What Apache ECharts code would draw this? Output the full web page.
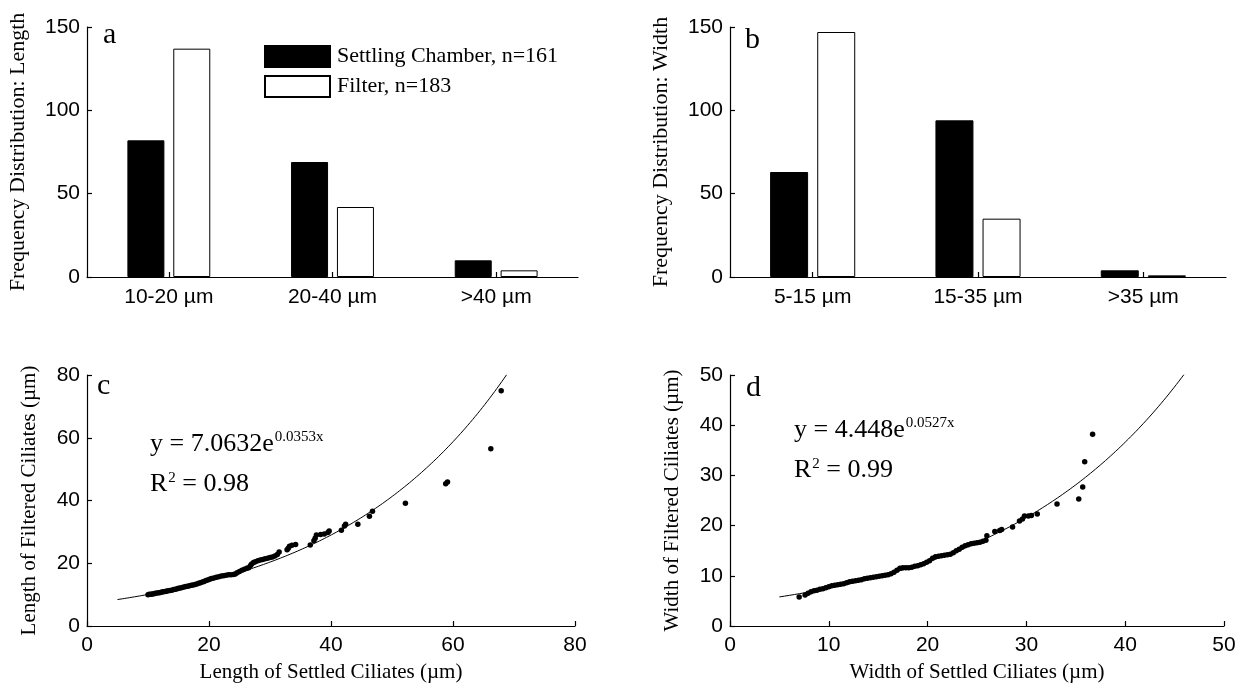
<!DOCTYPE html>
<html>
<head>
<meta charset="utf-8">
<script src="https://cdn.jsdelivr.net/npm/echarts@6/dist/echarts.min.js"></script>
<style>
  html, body { margin: 0; padding: 0; background: #fff; }
  #chart { width: 1239px; height: 688px; }
</style>
</head>
<body>
<div id="chart"></div>
<script>
// Size classes for ciliate length and width
const lengthCats = ['10-20 µm', '20-40 µm', '>40 µm'];
const widthCats = ['5-15 µm', '15-35 µm', '>35 µm'];

// Counts per size class (settling chamber vs. filter)
const lengthSettled = [82, 69, 10];
const lengthFilter = [137, 42, 4];
const widthSettled = [63, 94, 4];
const widthFilter = [147, 35, 1];

const seriesNames = ['Settling Chamber, n=161', 'Filter, n=183'];

// Paired sizes: settled (x) vs filtered (y), µm
const lengthPairs = [
  [10.0, 10.0], [10.2, 10.1], [10.5, 10.1], [10.7, 10.2], [11.0, 10.3], [11.2, 10.4],
  [11.5, 10.5], [11.8, 10.6], [12.0, 10.7], [12.3, 10.8], [12.5, 10.9], [12.8, 11.0],
  [13.0, 11.1], [13.3, 11.2], [13.6, 11.3], [13.9, 11.4], [14.2, 11.6], [14.5, 11.7],
  [14.8, 11.9], [15.0, 12.0], [15.3, 12.1], [15.6, 12.3], [15.9, 12.4], [16.2, 12.6],
  [16.5, 12.7], [16.8, 12.8], [17.1, 13.0], [17.4, 13.1], [17.7, 13.2], [18.0, 13.4],
  [18.3, 13.6], [18.6, 13.8], [18.9, 14.0], [19.2, 14.2], [19.5, 14.5], [19.8, 14.7],
  [20.1, 14.9], [20.4, 15.1], [20.8, 15.3], [21.2, 15.5], [21.6, 15.7], [22.0, 15.9],
  [22.4, 16.0], [22.8, 16.2], [23.2, 16.3], [23.6, 16.3], [24.0, 16.4], [24.3, 16.6],
  [24.6, 17.0], [25.0, 17.4], [25.4, 17.8], [25.8, 18.1], [26.2, 18.4], [26.5, 18.6],
  [26.8, 19.3], [27.0, 19.8], [27.3, 20.2], [27.6, 20.5], [28.0, 20.8], [28.4, 21.0],
  [28.8, 21.2], [29.2, 21.4], [29.6, 21.6], [30.0, 21.8], [30.4, 22.0], [30.8, 22.3],
  [31.2, 22.8], [31.5, 23.6], [32.8, 24.3], [33.0, 24.8], [33.2, 25.4], [33.6, 25.7],
  [34.2, 26.0], [36.6, 25.8], [37.2, 27.2], [37.4, 28.0], [37.6, 29.0], [38.3, 29.2],
  [38.9, 29.3], [39.5, 29.8], [39.7, 30.3], [41.7, 30.5], [42.2, 31.9], [42.4, 32.4],
  [44.4, 32.4], [46.3, 35.0], [46.8, 36.6], [52.2, 39.1], [58.8, 45.3], [59.1, 45.9],
  [66.2, 56.5], [67.9, 75.0]
];
const widthPairs = [
  [7.0, 5.8], [7.6, 6.2], [7.9, 6.5], [8.2, 6.8], [8.5, 7.0], [8.8, 7.1], [9.1, 7.3],
  [9.4, 7.4], [9.7, 7.6], [10.0, 7.8], [10.3, 8.0], [10.6, 8.1], [10.9, 8.2], [11.2, 8.3],
  [11.5, 8.4], [11.8, 8.6], [12.1, 8.8], [12.4, 8.9], [12.7, 9.0], [13.0, 9.1], [13.3, 9.2],
  [13.6, 9.4], [13.9, 9.5], [14.2, 9.6], [14.5, 9.7], [14.8, 9.8], [15.1, 9.9], [15.4, 10.0],
  [15.7, 10.1], [16.0, 10.2], [16.3, 10.4], [16.6, 10.7], [16.9, 11.1], [17.2, 11.5],
  [17.5, 11.6], [17.8, 11.6], [18.1, 11.6], [18.4, 11.7], [18.7, 11.9], [19.0, 12.0],
  [19.3, 12.2], [19.6, 12.4], [19.9, 12.7], [20.2, 13.0], [20.5, 13.5], [20.8, 13.8],
  [21.1, 13.9], [21.4, 14.0], [21.7, 14.1], [22.0, 14.2], [22.3, 14.3], [22.6, 14.6],
  [22.9, 15.0], [23.2, 15.3], [23.5, 15.7], [23.8, 16.0], [24.1, 16.2], [24.4, 16.4],
  [24.7, 16.5], [25.0, 16.6], [25.3, 16.7], [25.6, 16.9], [25.9, 17.1], [26.0, 18.0],
  [26.8, 18.8], [27.3, 19.0], [27.5, 19.2], [28.6, 19.7], [29.3, 20.9], [29.6, 21.3],
  [29.8, 21.9], [30.2, 21.9], [30.5, 22.0], [31.1, 22.3], [33.1, 24.3], [35.3, 25.3],
  [35.7, 27.7], [35.9, 32.7], [36.7, 38.2]
];

// Exponential fits y = a·e^(b·x) as printed on the panels, and their x extents
const lengthFitCoef = [7.0632, 0.0353];
const lengthFitRange = [5, 68.8];
const widthFitCoef = [4.448, 0.0527];
const widthFitRange = [5, 45.95];
const lengthFitR2 = '0.98';
const widthFitR2 = '0.99';

// Axis tick settings
const freqTicks = { min: 0, max: 150, interval: 50 };
const lengthTicks = { min: 0, max: 80, interval: 20 };
const widthTicks = { min: 0, max: 50, interval: 10 };

function fitCurve(coef, range) {
  const pts = [];
  const n = 160;
  for (let i = 0; i <= n; i++) {
    const x = range[0] + (range[1] - range[0]) * i / n;
    pts.push([x, coef[0] * Math.exp(coef[1] * x)]);
  }
  return pts;
}

const SANS = "'Liberation Sans', Arial, sans-serif";
const SERIF = "'Liberation Serif', 'Times New Roman', serif";
const INK = '#000';

const axisLine = { show: true, onZero: false, lineStyle: { color: INK, width: 1.2 } };
const tickIn = { show: true, inside: true, length: 5, lineStyle: { color: INK, width: 1.2 } };
const tickLabel = { color: INK, fontFamily: SANS, fontSize: 21 };

function catAxis(grid, cats) {
  return {
    type: 'category', gridIndex: grid, data: cats,
    axisLine: axisLine,
    axisTick: Object.assign({ alignWithLabel: true }, tickIn),
    axisLabel: Object.assign({ margin: 10 }, tickLabel),
    splitLine: { show: false }
  };
}
function valAxis(grid, ticks, name, isY, gap, nameSize) {
  return Object.assign({
    type: 'value', gridIndex: grid,
    name: name, nameLocation: 'middle', nameGap: gap,
    nameTextStyle: { color: INK, fontFamily: SERIF, fontSize: nameSize },
    axisLine: axisLine, axisTick: tickIn,
    axisLabel: Object.assign({ margin: isY ? 7 : 9 }, tickLabel),
    splitLine: { show: false }
  }, ticks);
}

function barPair(grid, names, settled, filter, bw) {
  return [
    { type: 'bar', name: names[0], xAxisIndex: grid, yAxisIndex: grid, data: settled,
      barWidth: bw, barGap: '24%',
      itemStyle: { color: INK, borderColor: INK, borderWidth: 1 } },
    { type: 'bar', name: names[1], xAxisIndex: grid, yAxisIndex: grid, data: filter,
      barWidth: bw, barGap: '24%',
      itemStyle: { color: '#fff', borderColor: INK, borderWidth: 1 } }
  ];
}
function scatterWithFit(grid, pairs, coef, range) {
  return [
    { type: 'line', xAxisIndex: grid, yAxisIndex: grid, data: fitCurve(coef, range),
      showSymbol: false, silent: true, lineStyle: { color: INK, width: 1 }, z: 2 },
    { type: 'scatter', xAxisIndex: grid, yAxisIndex: grid, data: pairs,
      symbolSize: 5.5, itemStyle: { color: INK, opacity: 1 }, z: 3 }
  ];
}

function txt(s, x, y, size) {
  return { type: 'text', left: x, top: y,
    style: { text: s, fill: INK, font: size + 'px ' + SERIF, textVerticalAlign: 'middle', verticalAlign: 'middle' } };
}
function placeTxt(s, x, midY, size) {
  // x = left edge, midY = vertical centre of the text line
  return { type: 'text', x: x, y: midY,
    style: { text: s, fill: INK, fontFamily: SERIF, fontSize: size,
             align: 'left', verticalAlign: 'middle' } };
}
// Fit equation with superscripts, laid out from the fitted coefficients
function equation(x, midY, coef, r2) {
  const main = 'y = ' + coef[0] + 'e';
  const sup = coef[1] + 'x';
  const mainW = echarts.format.getTextRect
    ? echarts.format.getTextRect(main, '26px ' + SERIF).width : 126;
  const rW = echarts.format.getTextRect
    ? echarts.format.getTextRect('R', '26px ' + SERIF).width : 17;
  const twoW = echarts.format.getTextRect
    ? echarts.format.getTextRect('2', '15px ' + SERIF).width : 8;
  return [
    placeTxt(main, x, midY, 26),
    placeTxt(sup, x + mainW + 1, midY - 7, 15),
    placeTxt('R', x, midY + 40, 26),
    placeTxt('2', x + rW + 1, midY + 40 - 6, 15),
    placeTxt(' = ' + r2, x + rW + twoW + 1, midY + 40, 26)
  ];
}

const chart = echarts.init(document.getElementById('chart'), null, { renderer: 'canvas' });
chart.setOption({
  backgroundColor: '#fff',
  animation: false,
  grid: [
    { left: 87, top: 27, width: 491, height: 250 },
    { left: 730, top: 27, width: 496, height: 250 },
    { left: 87, top: 375, width: 488, height: 251 },
    { left: 730, top: 375, width: 494, height: 251 }
  ],
  legend: {
    data: seriesNames, orient: 'vertical', left: 259, top: 40,
    icon: 'rect', itemWidth: 65, itemHeight: 21, itemGap: 7,
    textStyle: { color: INK, fontFamily: SERIF, fontSize: 22, padding: [0, 0, 0, 2] },
    selectedMode: false
  },
  xAxis: [
    catAxis(0, lengthCats),
    catAxis(1, widthCats),
    valAxis(2, lengthTicks, 'Length of Settled Ciliates (µm)', false, 36, 21),
    valAxis(3, widthTicks, 'Width of Settled Ciliates (µm)', false, 36, 21)
  ],
  yAxis: [
    valAxis(0, freqTicks, 'Frequency Distribution: Length', true, 58, 22),
    valAxis(1, freqTicks, 'Frequency Distribution: Width', true, 58, 22),
    valAxis(2, lengthTicks, 'Length of Filtered Ciliates (µm)', true, 47, 21),
    valAxis(3, widthTicks, 'Width of Filtered Ciliates (µm)', true, 47, 21)
  ],
  series: [].concat(
    barPair(0, seriesNames, lengthSettled, lengthFilter, 37),
    barPair(1, ['Settling Chamber', 'Filter'], widthSettled, widthFilter, 38),
    scatterWithFit(2, lengthPairs, lengthFitCoef, lengthFitRange),
    scatterWithFit(3, widthPairs, widthFitCoef, widthFitRange)
  ),
  graphic: [
    placeTxt('a', 103, 35, 30),
    placeTxt('b', 745, 40, 30),
    placeTxt('c', 97, 386, 30),
    placeTxt('d', 746, 388, 30)
  ].concat(
    equation(150, 444, lengthFitCoef, lengthFitR2),
    equation(794, 430, widthFitCoef, widthFitR2)
  )
});
</script>
</body>
</html>
